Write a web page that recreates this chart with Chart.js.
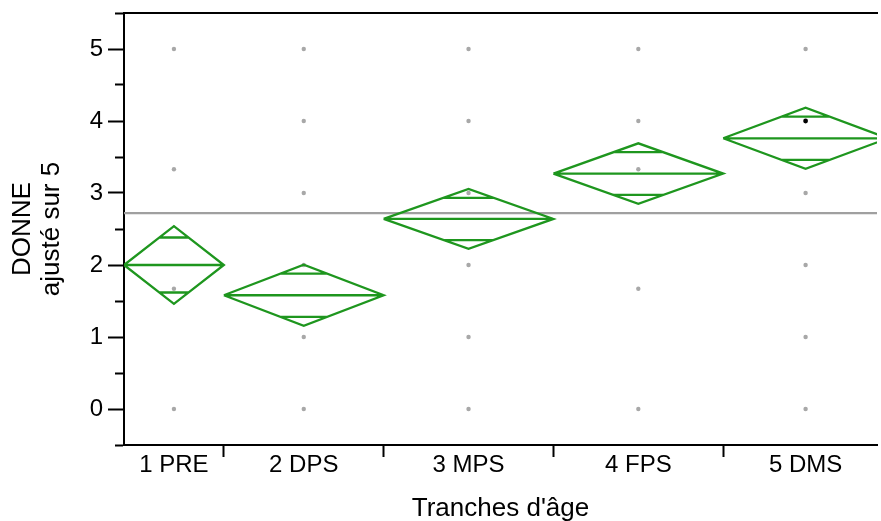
<!DOCTYPE html>
<html><head><meta charset="utf-8">
<script src="https://cdn.jsdelivr.net/npm/chart.js@4.4.1/dist/chart.umd.min.js"></script>
<style>html,body{margin:0;padding:0;background:#fff;overflow:hidden}canvas{display:block}</style>
</head><body><canvas id="c" width="881" height="521" style="width:881px;height:521px"></canvas>
<script>
// ---- data ----
const categories = ['1 PRE', '2 DPS', '3 MPS', '4 FPS', '5 DMS'];
const groupCounts = [20, 32, 34, 34, 33];
const groupMeans = [2.00, 1.58, 2.64, 3.27, 3.76];
const ciHalfWidths = [0.54, 0.425, 0.415, 0.42, 0.425];
const grandMean = 2.72;
const pointsPRE = [5, 3.33, 1.67, 0];
const pointsDPS = [5, 4, 3, 2, 1, 0];
const pointsMPS = [5, 4, 3, 2, 1, 0];
const pointsFPS = [5, 4, 3.33, 1.67, 0];
const pointsDMS = [5, 3, 2, 1, 0];
const highlightedGroup = 4;
const highlightedValue = 4;
const yTickLabels = [0, 1, 2, 3, 4, 5];
const yMin = -0.5, yMax = 5.5;
const xMaxVisible = 150.8;

// ---- derived ----
const groupPoints = [pointsPRE, pointsDPS, pointsMPS, pointsFPS, pointsDMS];
const bounds = [0];
groupCounts.forEach(n => bounds.push(bounds[bounds.length - 1] + n));
const centers = groupCounts.map((n, i) => bounds[i] + n / 2);

const GREEN = 'rgb(30,150,30)';
const FONT = "'Liberation Sans', Arial, Helvetica, sans-serif";

const datasets = [];
datasets.push({
  data: [{x: 0, y: grandMean}, {x: xMaxVisible, y: grandMean}],
  showLine: true, borderColor: '#a0a0a0', borderWidth: 2.2, pointRadius: 0, order: 3
});
datasets.push({
  data: groupPoints.flatMap((arr, i) => arr.map(v => ({x: centers[i], y: v}))),
  showLine: false, pointRadius: 2.2, pointBackgroundColor: '#a8a8a8', pointBorderWidth: 0, order: 2
});
datasets.push({
  data: [{x: centers[highlightedGroup], y: highlightedValue}],
  showLine: false, pointRadius: 2.4, pointBackgroundColor: '#000', pointBorderWidth: 0, order: 0
});
groupMeans.forEach((m, i) => {
  const c = centers[i], h = groupCounts[i] / 2, e = ciHalfWidths[i];
  const o = e / Math.SQRT2, hw = h * (1 - 1 / Math.SQRT2);
  const gap = {x: c, y: null};
  datasets.push({
    data: [
      {x: c - h, y: m}, {x: c, y: m + e}, {x: c + h, y: m}, {x: c, y: m - e}, {x: c - h, y: m}, gap,
      {x: c - h, y: m}, {x: c + h, y: m}, gap,
      {x: c - hw, y: m + o}, {x: c + hw, y: m + o}, gap,
      {x: c - hw, y: m - o}, {x: c + hw, y: m - o}
    ],
    showLine: true, spanGaps: false, borderColor: GREEN, borderWidth: 2.3, pointRadius: 0, order: 1
  });
});

const xTicks = bounds.concat(centers).filter(v => v <= xMaxVisible).sort((a, b) => a - b);
const isInnerBound = v => bounds.some(b => b > 0 && Math.abs(b - v) < 1e-9);
const noPad = s => { s.paddingTop = 0; s.paddingBottom = 0; s.paddingLeft = 0; s.paddingRight = 0; };

new Chart(document.getElementById('c'), {
  type: 'scatter',
  data: {datasets},
  options: {
    responsive: false, animation: false, devicePixelRatio: 1,
    layout: {padding: {top: 13, left: 0, right: 0, bottom: 0}},
    plugins: {legend: {display: false}, tooltip: {enabled: false}},
    scales: {
      x: {
        type: 'linear', position: 'bottom', min: 0, max: xMaxVisible,
        afterBuildTicks: s => { s.ticks = xTicks.map(v => ({value: v})); },
        afterFit: s => { s.height = 76; noPad(s); },
        ticks: {
          autoSkip: false, maxRotation: 0, minRotation: 0, padding: -6, color: '#000',
          font: {family: FONT, size: 24},
          callback: v => { const i = centers.indexOf(v); return i >= 0 ? categories[i] : ''; }
        },
        grid: {
          drawOnChartArea: false, drawTicks: true, tickLength: 12, tickWidth: 2,
          tickColor: ctx => (ctx.tick && isInnerBound(ctx.tick.value)) ? '#000' : 'rgba(0,0,0,0)'
        },
        border: {display: true, color: '#000', width: 2},
        title: {display: true, text: "Tranches d'âge", color: '#000', font: {family: FONT, size: 26, lineHeight: 1.2}, padding: {top: 0, bottom: -3}}
      },
      x2: {
        type: 'linear', position: 'top', min: 0, max: xMaxVisible,
        afterFit: s => { s.height = 0; noPad(s); },
        ticks: {display: false},
        grid: {drawOnChartArea: false, drawTicks: false},
        border: {display: true, color: '#000', width: 2}
      },
      y: {
        type: 'linear', position: 'left', min: yMin, max: yMax,
        afterBuildTicks: s => {
          const t = [];
          for (let v = yMin; v <= yMax + 1e-9; v += 0.5) t.push({value: Math.round(v * 10) / 10});
          s.ticks = t;
        },
        afterFit: s => { s.width = 124; noPad(s); },
        ticks: {
          autoSkip: false, padding: 5, color: '#000', font: {family: FONT, size: 24},
          callback: v => yTickLabels.includes(v) ? String(v) : ''
        },
        grid: {
          drawOnChartArea: false, drawTicks: true, tickLength: 16, tickWidth: 2, tickColor: '#000',
          tickBorderDash: ctx => (ctx.tick && yTickLabels.includes(ctx.tick.value)) ? [] : [0, 7, 9, 100]
        },
        border: {display: true, color: '#000', width: 2},
        title: {display: true, text: ['DONNE', 'ajusté sur 5'], color: '#000', font: {family: FONT, size: 26, lineHeight: 1.12}, padding: {top: 8, bottom: 0}}
      }
    }
  }
});
</script></body></html>
